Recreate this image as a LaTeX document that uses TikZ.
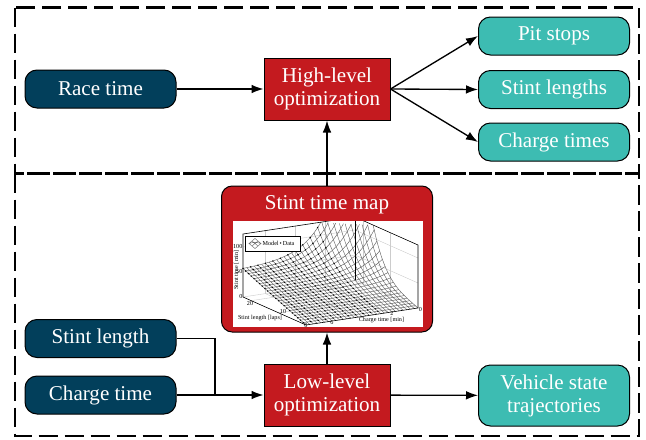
\documentclass[tikz,border=0pt]{standalone}
\usepackage{fontspec}
\setmainfont{Liberation Serif}
\usetikzlibrary{arrows.meta}
\definecolor{dblue}{HTML}{023F5B}
\definecolor{tealc}{HTML}{3DBCB2}
\definecolor{redc}{HTML}{C41A1F}
\pgfmathdeclarefunction{stt}{2}{\pgfmathparse{2.4*#2+338*(#2/23)^4*exp(-0.684*#1)}}
\newcommand\segclip[4]{%
  \pgfmathsetmacro\sgTa{stt(#1,#2)}%
  \pgfmathsetmacro\sgTb{stt(#3,#4)}%
  \pgfmathtruncatemacro\sgIa{\sgTa<=126 ? 1 : 0}%
  \pgfmathtruncatemacro\sgIb{\sgTb<=126 ? 1 : 0}%
  \ifnum\sgIa=1
    \ifnum\sgIb=1
      \draw[meshline] (#1,#2,\sgTa) -- (#3,#4,\sgTb);
    \else
      \pgfmathsetmacro\sgF{(126-\sgTa)/(\sgTb-\sgTa)}%
      \draw[meshline] (#1,#2,\sgTa) -- ({#1+\sgF*(#3-#1)},{#2+\sgF*(#4-#2)},126);
    \fi
  \else
    \ifnum\sgIb=1
      \pgfmathsetmacro\sgF{(126-\sgTb)/(\sgTa-\sgTb)}%
      \draw[meshline] ({#3+\sgF*(#1-#3)},{#4+\sgF*(#2-#4)},126) -- (#3,#4,\sgTb);
    \fi
  \fi}
\begin{document}
\begin{tikzpicture}[x=0.75pt,y=-0.75pt,
  inbox/.style={draw=black,line width=0.75pt,fill=dblue,rounded corners=9pt,minimum width=113.25pt,minimum height=28.5pt,inner sep=0pt,text=white,font=\fontsize{15.8}{17.3}\selectfont,align=center},
  outbox/.style={inbox,fill=tealc},
  optbox/.style={draw=black,line width=0.75pt,fill=redc,minimum width=94.5pt,minimum height=46.5pt,inner sep=0pt,text=white,font=\fontsize{15.8}{17.3}\selectfont,align=center},
  conn/.style={draw=black,line width=1pt,-{Latex[length=9pt,width=6.5pt]}},
  wire/.style={draw=black,line width=1pt},
  region/.style={draw=black,line width=2.1pt,dash pattern=on 14.5pt off 5pt},
  tick/.style={font=\fontsize{4.6}{5}\selectfont,inner sep=0.3pt,text=black},
  meshline/.style={draw=gray!70!black,line width=0.3pt},
  gridline/.style={draw=gray!40,line width=0.3pt},
  ]
\useasboundingbox (0,0) rectangle (646,439);
% regions
\draw[region] (15,7.5) rectangle (639,173.5);
\draw[region] (15,173.5) rectangle (639,436);
% nodes
\node[inbox] (race) at (100.5,89) {Race time};
\node[optbox] (high) at (327,89) {High-level\\optimization};
\node[outbox] (pit) at (554,36) {Pit stops};
\node[outbox] (slens) at (554,89.5) {Stint lengths};
\node[outbox] (ctimes) at (554,142) {Charge times};
\node[inbox] (slen) at (100.5,338.5) {Stint length};
\node[inbox] (ctime) at (100.5,395) {Charge time};
\node[optbox] (low) at (327,395) {Low-level\\optimization};
\node[outbox,minimum height=45.75pt] (veh) at (554,395.5) {Vehicle state\\trajectories};
\node[draw=black,line width=0.75pt,fill=redc,rounded corners=8pt,minimum width=158.25pt,minimum height=109.5pt] (map) at (327,259) {};
\node[text=white,font=\fontsize{15.8}{17.3}\selectfont,inner sep=0pt] (maptitle) at (327,204.5) {Stint time map};
\fill[white] (233,221) rectangle (423,327);
% plot
\begin{scope}
\clip (233,221) rectangle (423,327);
\begin{scope}[shift={(313.5pt,-231pt)},x={(-11.2pt,-1.70pt)},y={(-2.054pt,0.913pt)},z={(0pt,0.375pt)}]
  \foreach \c in {2,4,6} {
    \draw[gridline] (\c,23,0) -- (\c,23,126);
    \draw[gridline] (\c,0,0) -- (\c,23,0);
  }
  \foreach \zz in {50,100} {
    \draw[gridline] (0,23,\zz) -- (7.5,23,\zz);
    \draw[gridline] (0,0,\zz) -- (0,23,\zz);
  }
  \foreach \L in {10,20} {
    \draw[gridline] (0,\L,0) -- (0,\L,126);
    \draw[gridline] (0,\L,0) -- (7.5,\L,0);
  }
  \draw[gridline] (7.5,23,0) -- (0,23,0) -- (0,0,0);
  % mesh, constant stint length
  \foreach \L in {1,...,23} {
    \foreach \i in {0,...,59} {
      \pgfmathsetmacro\ca{\i*0.125}
      \pgfmathsetmacro\cb{\i*0.125+0.125}
      \segclip{\ca}{\L}{\cb}{\L}
    }
  }
  % mesh, constant charge time
  \foreach \i in {0,...,30} {
    \pgfmathsetmacro\cc{\i*0.25}
    \foreach \j in {0,...,45} {
      \pgfmathsetmacro\La{\j*0.5}
      \pgfmathsetmacro\Lb{\j*0.5+0.5}
      \segclip{\cc}{\La}{\cc}{\Lb}
    }
  }
  % data
  \foreach \k in {0,...,10} {
    \pgfmathsetmacro\cc{2.5+\k*0.5}
    \foreach \L in {1,...,23} {
      \pgfmathsetmacro\dT{stt(\cc,\L)}
      \fill[black] (\cc,\L,\dT) circle (0.6pt);
    }
  }
  % box
  \draw[black,line width=0.45pt] (7.5,23,0) -- (7.5,23,126) -- (0,23,126) -- (0,0,126) -- (0,0,0) -- (7.5,0,0) -- cycle;
  \draw[black,line width=0.45pt] (0,23,0) -- (0,23,126);
\end{scope}
\end{scope}
% axis labels
\node[tick,anchor=east] (z100) at (243,246) {100};
\node[tick,anchor=east] (z50) at (243,271) {50};
\node[tick,anchor=east] (z0) at (243,296) {0};
\node[tick,rotate=90] (zlab) at (236.5,270) {Stint time [min]};
\node[tick] (l20) at (250,303.5) {20};
\node[tick] (l10) at (283,311) {10};
\node[tick] (l0) at (306,325.5) {0};
\node[tick] (llab) at (260,318.5) {Stint length [laps]};
\node[tick] (c6) at (332,322.5) {6};
\node[tick] (c2) at (392,313.5) {2};
\node[tick] (c0) at (420.5,309.5) {0};
\node[tick] (clab) at (381.5,320) {Charge time [min]};
% legend
\node[draw=black,fill=white,line width=0.3pt,minimum width=41.25pt,minimum height=11.25pt,inner sep=0pt] (leg) at (272.5,243.5) {};
\draw[gray!80!black,line width=0.3pt] (249,243.5) -- (255,238.5) -- (261,243.5) -- (255,248.5) -- cycle
  (252,241) -- (258,246) (252,246) -- (258,241) (249,243.5) .. controls (255,242) .. (261,243.5);
\node[tick,anchor=west] (legtxt) at (262,243.5) {Model\,\textbullet\,Data};
% connectors
\draw[conn] (race) -- (high);
\draw[conn] (high.east) -- (pit.west);
\draw[conn] (high.east) -- (slens.west);
\draw[conn] (high.east) -- (ctimes.west);
\draw[conn] (map) -- (high);
\draw[conn] (low) -- (map);
\draw[conn] (low) -- (veh);
\coordinate (j) at (215,395);
\draw[wire] (slen.east) -| (j);
\draw[conn] (ctime) -- (low);
\end{tikzpicture}
\end{document}
